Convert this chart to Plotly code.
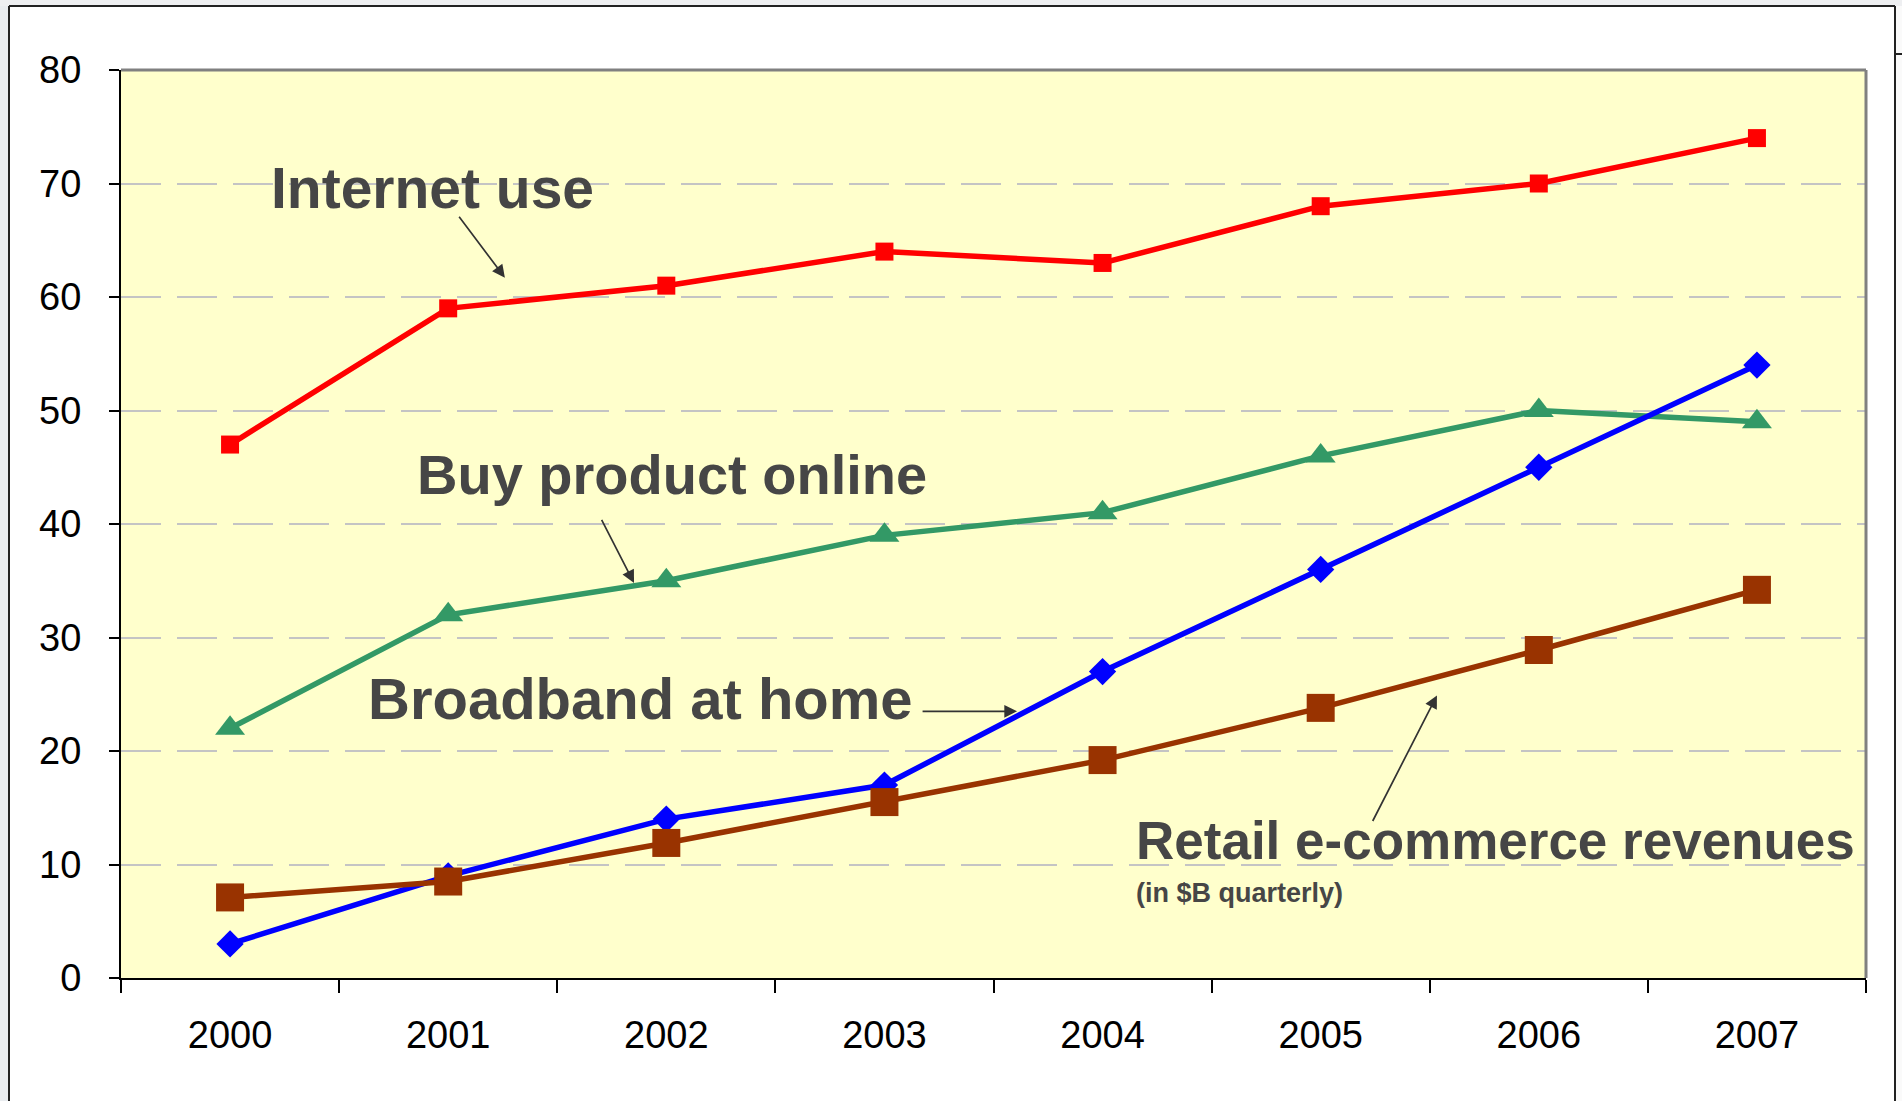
import plotly.graph_objects as go

# Survey results (percent of adults) and retail e-commerce revenues, 2000-2007
years = ["2000", "2001", "2002", "2003", "2004", "2005", "2006", "2007"]
internet_use = [47, 59, 61, 64, 63, 68, 70, 74]
buy_online = [22, 32, 35, 39, 41, 46, 50, 49]
broadband_home = [3, 9, 14, 17, 27, 36, 45, 54]
ecommerce_revenue = [7.1, 8.5, 11.9, 15.5, 19.2, 23.8, 28.9, 34.2]

y_ticks = [0, 10, 20, 30, 40, 50, 60, 70, 80]

W, H = 1902, 1101
L, R, T, B = 121, 36, 70, 123
PW, PH = W - L - R, H - T - B


def px_x(p):
    return (p - L) / PW


def px_y(p):
    return (H - B - p) / PH


TEXT = "#464646"
FONT = "Liberation Sans, Arial, sans-serif"

fig = go.Figure()

fig.add_trace(go.Scatter(
    x=years, y=internet_use, mode="lines+markers", name="Internet use",
    line=dict(color="#FF0000", width=5.5),
    marker=dict(symbol="square", size=18, color="#FF0000"),
))
fig.add_trace(go.Scatter(
    x=years, y=buy_online, mode="lines+markers", name="Buy product online",
    line=dict(color="#339966", width=5.5),
    marker=dict(symbol="triangle-up", size=26, color="#339966"),
))
fig.add_trace(go.Scatter(
    x=years, y=broadband_home, mode="lines+markers", name="Broadband at home",
    line=dict(color="#0000FF", width=5.5),
    marker=dict(symbol="diamond", size=21, color="#0000FF"),
))
fig.add_trace(go.Scatter(
    x=years, y=ecommerce_revenue, mode="lines+markers", name="Retail e-commerce revenues",
    line=dict(color="#993300", width=5.5),
    marker=dict(symbol="square", size=28, color="#993300"),
))

# Series labels drawn inside the plot
labels = [
    ("Internet use", 0.179, 69.6, 57),
    ("Buy product online", 0.848, 44.4, 56),
    ("Broadband at home", 0.623, 24.6, 58),
    ("Retail e-commerce revenues", 4.144, 12.1, 53),
]
annotations = []
for text, x, y, size in labels:
    annotations.append(dict(
        x=x, y=y, xref="x", yref="y", text=text, showarrow=False,
        xanchor="left", yanchor="middle",
        font=dict(family=FONT, size=size, color=TEXT, weight="bold"),
    ))
annotations.append(dict(
    x=4.144, y=7.5, xref="x", yref="y", text="(in $B quarterly)", showarrow=False,
    xanchor="left", yanchor="middle",
    font=dict(family=FONT, size=27, color=TEXT, weight="bold"),
))

# Pointer arrows from each label to its line: (tip x, tip y, tail x, tail y)
pointers = [
    (1.260, 61.7, 1.045, 67.2),
    (1.852, 34.8, 1.700, 40.5),
    (3.608, 23.5, 3.168, 23.5),
    (5.533, 24.9, 5.235, 13.7),
]
for tx, ty, sx, sy in pointers:
    annotations.append(dict(
        x=tx, y=ty, ax=sx, ay=sy, xref="x", yref="y", axref="x", ayref="y",
        text="", showarrow=True, arrowhead=2, arrowsize=1.5, arrowwidth=1.7,
        arrowcolor="#333333", standoff=0, startstandoff=0,
    ))

shapes = [
    # slide background strips outside the chart frame
    dict(type="rect", xref="paper", yref="paper", x0=px_x(0), x1=px_x(9), y0=px_y(H), y1=px_y(0),
         fillcolor="#e9ecef", line=dict(width=0), layer="below"),
    dict(type="rect", xref="paper", yref="paper", x0=px_x(0), x1=px_x(W), y0=px_y(6), y1=px_y(0),
         fillcolor="#eeeff1", line=dict(width=0), layer="below"),
    dict(type="rect", xref="paper", yref="paper", x0=px_x(1895), x1=px_x(W), y0=px_y(H), y1=px_y(6),
         fillcolor="#fafafa", line=dict(width=0), layer="below"),
    # chart frame
    dict(type="line", xref="paper", yref="paper", x0=px_x(9), x1=px_x(9), y0=px_y(H + 5), y1=px_y(6),
         line=dict(color="#222222", width=2)),
    dict(type="line", xref="paper", yref="paper", x0=px_x(9), x1=px_x(1895), y0=px_y(6), y1=px_y(6),
         line=dict(color="#222222", width=2)),
    dict(type="line", xref="paper", yref="paper", x0=px_x(1895), x1=px_x(1895), y0=px_y(H + 5), y1=px_y(6),
         line=dict(color="#222222", width=2)),
    dict(type="line", xref="paper", yref="paper", x0=px_x(1895), x1=px_x(W), y0=px_y(54), y1=px_y(54),
         line=dict(color="#222222", width=2)),
    # plot area border (top and right)
    dict(type="line", xref="paper", yref="paper", x0=0, x1=1, y0=1, y1=1,
         line=dict(color="#808080", width=3)),
    dict(type="line", xref="paper", yref="paper", x0=1, x1=1, y0=0, y1=1,
         line=dict(color="#808080", width=3)),
]

fig.update_layout(
    width=W, height=H,
    margin=dict(l=L, r=R, t=T, b=B, pad=0),
    paper_bgcolor="#FFFFFF",
    plot_bgcolor="#FFFFCC",
    showlegend=False,
    annotations=annotations,
    shapes=shapes,
    font=dict(family=FONT, color="#000000"),
    xaxis=dict(
        type="category", range=[-0.5, 7.5], tickson="boundaries",
        ticks="outside", ticklen=13, tickwidth=1.5, tickcolor="#000000",
        showline=True, linecolor="#000000", linewidth=2,
        showgrid=False, zeroline=False,
        tickfont=dict(family=FONT, size=38, color="#000000"),
        ticklabelstandoff=22,
    ),
    yaxis=dict(
        range=[0, 80], tickvals=y_ticks,
        ticks="outside", ticklen=10, tickwidth=1.5, tickcolor="#000000",
        showline=True, linecolor="#000000", linewidth=2,
        showgrid=True, gridcolor="#C4C4C4", gridwidth=1.5, griddash="40px,16px",
        zeroline=False,
        tickfont=dict(family=FONT, size=38, color="#000000"),
        ticklabelstandoff=20,
    ),
)

fig.write_html("out.html")
